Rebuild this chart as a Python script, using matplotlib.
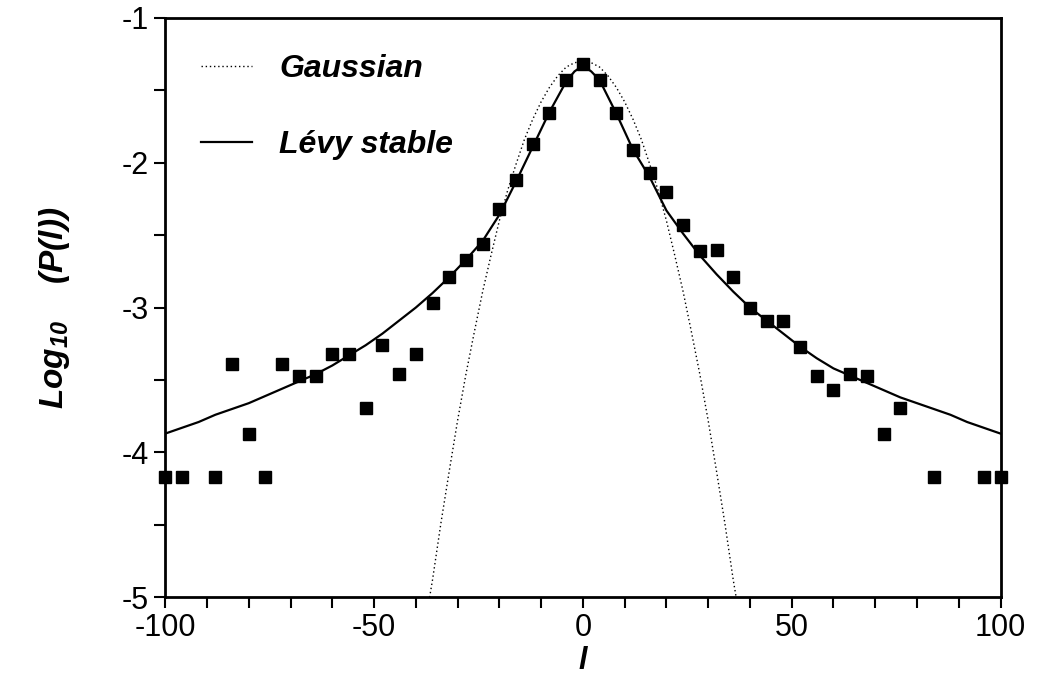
import matplotlib
matplotlib.use('Agg')
import matplotlib.pyplot as plt
from matplotlib.ticker import MultipleLocator

plt.rcParams['font.family'] = ['Liberation Sans', 'DejaVu Sans']
plt.rcParams['axes.unicode_minus'] = False
plt.rcParams['mathtext.fontset'] = 'custom'
plt.rcParams['mathtext.rm'] = 'Liberation Sans:bold:italic'
plt.rcParams['mathtext.it'] = 'Liberation Sans:bold:italic'
plt.rcParams['mathtext.bf'] = 'Liberation Sans:bold:italic'

# measured points (square markers)
l_pts = [-100, -96, -88, -84, -80, -76, -72, -68, -64, -60, -56, -52, -48, -44, -40,
         -36, -32, -28, -24, -20, -16, -12, -8, -4, 0,
         4, 8, 12, 16, 20, 24, 28, 32, 36, 40, 44, 48, 52, 56, 60, 64, 68, 72, 76,
         84, 96, 100]
logp_pts = [-4.17, -4.17, -4.17, -3.39, -3.87, -4.17, -3.39, -3.47, -3.47, -3.32, -3.32, -3.69, -3.26, -3.46, -3.32,
            -2.97, -2.79, -2.67, -2.56, -2.32, -2.12, -1.87, -1.66, -1.43, -1.32,
            -1.43, -1.66, -1.91, -2.07, -2.20, -2.43, -2.61, -2.60, -2.79, -3.00, -3.09, -3.09, -3.27, -3.47, -3.57, -3.46, -3.47, -3.87, -3.69,
            -4.17, -4.17, -4.17]

# Levy stable fit
l_levy = [-100, -96, -92, -88, -84, -80, -76, -72, -68, -64, -60, -56, -52, -48, -44, -40,
          -36, -32, -28, -24, -20, -16, -12, -8, -4, -2, 0,
          2, 4, 8, 12, 16, 20, 24, 28, 32, 36, 40, 44, 48, 52, 56, 60, 64, 68, 72,
          76, 80, 84, 88, 92, 96, 100]
logp_levy = [-3.87, -3.83, -3.79, -3.74, -3.70, -3.66, -3.61, -3.56, -3.51, -3.46, -3.40, -3.33, -3.26, -3.18, -3.09, -3.00,
             -2.90, -2.79, -2.67, -2.54, -2.36, -2.13, -1.89, -1.65, -1.44, -1.37, -1.33,
             -1.37, -1.43, -1.66, -1.91, -2.10, -2.33, -2.49, -2.64, -2.77, -2.89, -3.00, -3.09, -3.18, -3.27, -3.35, -3.42, -3.47, -3.52, -3.57,
             -3.62, -3.66, -3.70, -3.74, -3.79, -3.83, -3.87]

# Gaussian fit
l_gauss = [-36.7, -36, -34, -32, -30, -28, -26, -24, -22, -20, -18, -16, -14, -12, -10, -8, -6, -4, -2, 0,
           2, 4, 6, 8, 10, 12, 14, 16, 18, 20, 22, 24, 26, 28, 30, 32, 34, 36, 36.7]
logp_gauss = [-5.00, -4.88, -4.49, -4.13, -3.78, -3.46, -3.17, -2.89, -2.64, -2.40, -2.19, -2.01, -1.84, -1.70, -1.58, -1.48, -1.40, -1.34, -1.31, -1.30,
              -1.31, -1.34, -1.40, -1.48, -1.58, -1.70, -1.84, -2.01, -2.19, -2.40, -2.64, -2.89, -3.17, -3.46, -3.78, -4.13, -4.49, -4.88, -5.00]

fig = plt.figure(figsize=(10.39, 6.85), dpi=100)
ax = fig.add_axes([0.159, 0.128, 0.804, 0.846])

ax.plot(l_gauss, logp_gauss, color='black', lw=1.0, linestyle=(0, (1, 2)), label='Gaussian')
ax.plot(l_levy, logp_levy, color='black', lw=1.6, label='Lévy stable')
ax.plot(l_pts, logp_pts, linestyle='none', marker='s', ms=8, color='black', clip_on=False, zorder=5)

ax.set_xlim(-100, 100)
ax.set_ylim(-5, -1)
ax.xaxis.set_major_locator(MultipleLocator(50))
ax.xaxis.set_minor_locator(MultipleLocator(10))
ax.yaxis.set_major_locator(MultipleLocator(1))
ax.yaxis.set_minor_locator(MultipleLocator(0.5))
ax.tick_params(which='both', direction='out', length=8, width=1.5, labelsize=22)
for s in ax.spines.values():
    s.set_linewidth(2)

ax.set_xlabel('l', fontsize=22, fontweight='bold', style='italic', labelpad=2)
ax.set_ylabel('Log$_{10}$    (P(l))', fontsize=24, fontweight='bold', style='italic', labelpad=36)

ax.legend(loc='upper left', bbox_to_anchor=(0.024, 0.965), frameon=False, borderpad=0,
          handlelength=1.6, handletextpad=0.85, labelspacing=1.45,
          prop={'size': 23, 'weight': 'bold', 'style': 'italic'})

fig.savefig('out.png', dpi=100)
